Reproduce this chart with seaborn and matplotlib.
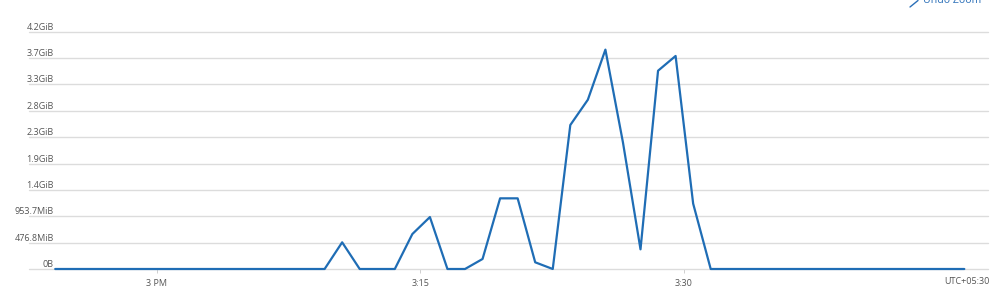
import matplotlib
matplotlib.use("Agg")
import matplotlib.pyplot as plt
import seaborn as sns
import pandas as pd
from matplotlib.lines import Line2D

# ---- data (minutes after 3 PM, memory in GB = 1e9 bytes) ----
minutes = [-5.8, 9.55, 10.55, 11.55, 12.55, 13.55, 14.55, 15.55, 16.55, 17.55,
           18.55, 19.55, 20.55, 21.55, 22.55, 23.55, 24.55, 25.55, 26.55, 27.55,
           28.55, 29.55, 30.55, 31.55, 46.0]
memory_gb = [0, 0, 0.506, 0, 0, 0, 0.663, 0.985, 0, 0,
             0.19, 1.34, 1.34, 0.127, 0, 2.73, 3.21, 4.16, 2.4, 0.373,
             3.76, 4.04, 1.24, 0, 0]
y_ticks = [0, 0.5, 1.0, 1.5, 2.0, 2.5, 3.0, 3.5, 4.0, 4.5]
y_tick_labels = ["0B", "476.8MiB", "953.7MiB", "1.4GiB", "1.9GiB", "2.3GiB",
                 "2.8GiB", "3.3GiB", "3.7GiB", "4.2GiB"]
x_ticks = [0, 15, 30]
x_tick_labels = ["3 PM", "3:15", "3:30"]

df = pd.DataFrame({"minute": minutes, "memory": memory_gb})

sns.set_theme(style="white")
plt.rcParams["font.family"] = ["Open Sans", "DejaVu Sans"]

W, H = 999, 287
fig = plt.figure(figsize=(W / 100, H / 100), dpi=100)
left_px, right_px = 29, 988
bottom_px, top_px = 269, 31.7
ax = fig.add_axes([left_px / W, (H - bottom_px) / H,
                   (right_px - left_px) / W, (bottom_px - top_px) / H])

px_per_min = 17.55
x0_px = 157
ax.set_xlim((left_px - x0_px) / px_per_min, (right_px - x0_px) / px_per_min)
ax.set_ylim(0, 4.5)

for yt in y_ticks:
    ax.axhline(yt, color="#dcdcdc", lw=1.0, zorder=1, clip_on=False)

sns.lineplot(data=df, x="minute", y="memory", ax=ax, color="#1f6db5",
             lw=1.6, zorder=3, clip_on=False)

for s in ax.spines.values():
    s.set_visible(False)

ax.set_xlabel("")
ax.set_ylabel("")
ax.set_yticks(y_ticks)
ax.set_yticklabels(y_tick_labels)
ax.tick_params(axis="y", length=0, pad=-(54 - left_px) / 1.389,
               labelsize=6.5, labelcolor="#555555")
for lab in ax.get_yticklabels():
    lab.set_verticalalignment("bottom")
    lab.set_horizontalalignment("right")

ax.set_xticks(x_ticks)
ax.set_xticklabels(x_tick_labels)
ax.tick_params(axis="x", length=3, width=0.6, color="#c8c8c8", pad=4,
               labelsize=6.5, labelcolor="#555555", bottom=True)

fig.text(990 / W, 1 - 282 / H, "UTC+05:30", ha="right", va="center",
         fontsize=6.5, color="#555555")

# "Undo Zoom" link, partly cut off at the top as in the reference
fig.text(923 / W, 1 - 0.5 / H, "Undo Zoom", ha="left", va="center",
         fontsize=7.6, color="#2a6fb8")
fig.add_artist(Line2D([910 / W, 918 / W], [1 - 7 / H, 1 - 0.5 / H],
                      color="#2a6fb8", lw=1.0, transform=fig.transFigure))

fig.savefig("out.png", dpi=100, facecolor="white")
